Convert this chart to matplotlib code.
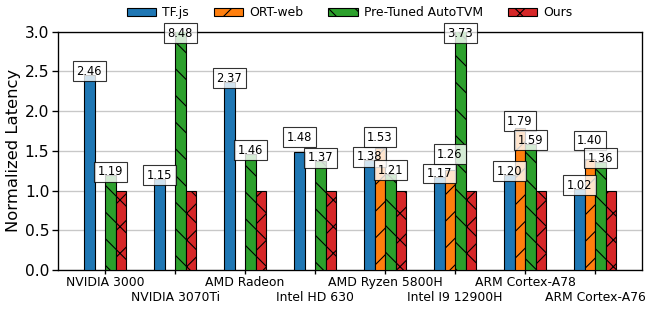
import matplotlib
matplotlib.use("Agg")
import matplotlib.pyplot as plt
import numpy as np

categories = ["NVIDIA 3000", "NVIDIA 3070Ti", "AMD Radeon", "Intel HD 630",
              "AMD Ryzen 5800H", "Intel I9 12900H", "ARM Cortex-A78", "ARM Cortex-A76"]
series_names = ["TF.js", "ORT-web", "Pre-Tuned AutoTVM", "Ours"]
tfjs = [2.46, 1.15, 2.37, 1.48, 1.38, 1.17, 1.20, 1.02]
ort_web = [np.nan, np.nan, np.nan, np.nan, 1.53, 1.26, 1.79, 1.40]
autotvm = [1.19, 8.48, 1.46, 1.37, 1.21, 3.73, 1.59, 1.36]
ours = [1.0, 1.0, 1.0, 1.0, 1.0, 1.0, 1.0, 1.0]
yticks = [0.0, 0.5, 1.0, 1.5, 2.0, 2.5, 3.0]

colors = ["#1f77b4", "#ff7f0e", "#2ca02c", "#d62728"]
hatches = ["", "//", "\\\\", "xx"]
# extra upward shift of value labels (series index, category index) -> data units
label_lift = {(0, 3): 0.145, (1, 4): 0.095, (1, 5): 0.155, (1, 6): 0.04, (1, 7): 0.185}

plt.rcParams["hatch.linewidth"] = 0.5
DPI = 160
W, H = 645, 309
fig = plt.figure(figsize=(W / DPI, H / DPI), dpi=DPI)
ax = fig.add_axes([57.5 / W, 1 - 270 / H, (642 - 57.5) / W, (270 - 31.7) / H])

x = np.arange(len(categories))
width = 0.15
ymax = 3.0
all_series = [tfjs, ort_web, autotvm, ours]
for i, (name, vals) in enumerate(zip(series_names, all_series)):
    vals = np.asarray(vals, dtype=float)
    mask = ~np.isnan(vals)
    xpos = x + (i - 1.5) * width
    ax.bar(xpos[mask], vals[mask], width, color=colors[i], edgecolor="black",
           linewidth=0.5, hatch=hatches[i], label=name, zorder=3)

for i, vals in enumerate(all_series[:3]):
    for j, v in enumerate(vals):
        if np.isnan(v):
            continue
        xp = x[j] + (i - 1.5) * width
        if v >= ymax:
            yp = 2.98
        else:
            yp = v + 0.045 + label_lift.get((i, j), 0.0)
        ax.text(xp, yp, f"{v:.2f}", ha="center", va="center", fontsize=5.2, zorder=6,
                clip_on=False,
                bbox=dict(boxstyle="square,pad=0.3", facecolor="white",
                          edgecolor="black", alpha=0.8, linewidth=0.5))

ax.set_xlim(-0.68, 7.67)
ax.set_ylim(0, ymax)
ax.set_yticks(yticks)
ax.set_yticklabels([f"{t:.1f}" for t in yticks], fontsize=7.0)
ax.set_xticks(x)
ax.set_xticklabels(categories, fontsize=5.55)
ax.tick_params(axis="y", width=0.6, length=2.5, pad=1.2)
ax.tick_params(axis="x", width=0.6, length=1.8, pad=1.1)
for k, t in enumerate(ax.xaxis.get_major_ticks()):
    if k % 2 == 1:
        t.set_pad(1.1 + 6.75)
ax.set_ylabel("Normalized Latency", fontsize=7.4, labelpad=1.5)
ax.yaxis.grid(True, color="#c8c8c8", linewidth=0.6)
ax.set_axisbelow(True)
for s in ax.spines.values():
    s.set_linewidth(0.6)

ax.legend(loc="lower center", bbox_to_anchor=(0.5, 1.0), ncol=4, frameon=False,
          fontsize=5.55, handlelength=2.4, handletextpad=0.5, columnspacing=2.0,
          borderaxespad=0.6)

fig.savefig("out.png", dpi=DPI)
